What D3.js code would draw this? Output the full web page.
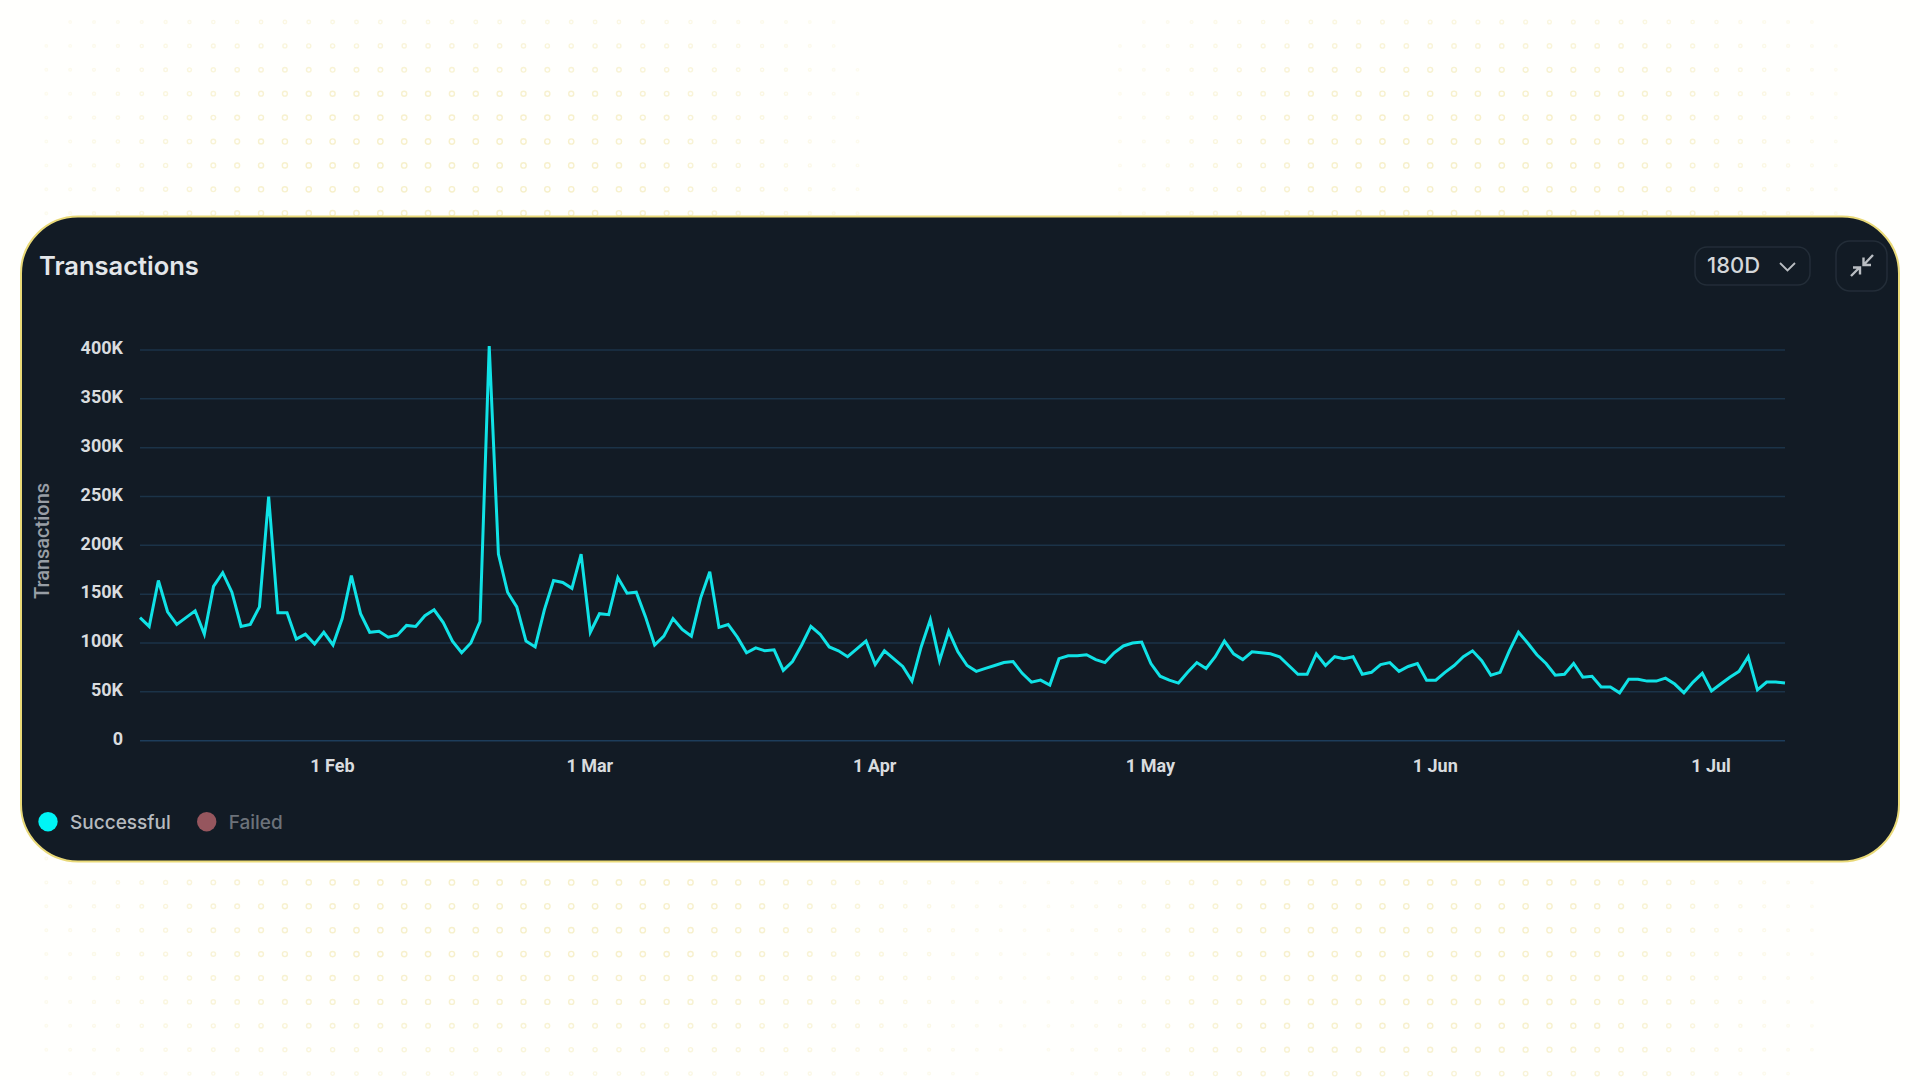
<!DOCTYPE html>
<html>
<head>
<meta charset="utf-8">
<title>Transactions</title>
<script src="https://cdn.jsdelivr.net/npm/d3@7"></script>
<style>
    html, body { margin: 0; padding: 0; background: #fffffd; overflow: hidden; }
    svg { display: block; }
</style>
</head>
<body>
<div id="chart-container"></div>
<script>
    // Daily successful transactions, in thousands (11 Jan -> 9 Jul)
    const successful = [
        126, 117, 164, 132, 119, 126, 133, 109, 158, 172, 152, 117, 119, 137, 250, 131, 131, 104, 109, 99,
        111, 98, 125, 169, 130, 111, 112, 106, 108, 118, 117, 128, 134, 121, 102, 90, 100, 122, 404, 191,
        152, 137, 102, 96, 134, 164, 162, 156, 191, 111, 130, 129, 167, 151, 152, 127, 98, 107, 125, 114,
        107, 146, 173, 116, 119, 106, 90, 95, 92, 93, 72, 81, 98, 117, 109, 96, 92, 86, 94, 102,
        78, 92, 84, 76, 61, 96, 124, 82, 112, 91, 77, 71, 74, 77, 80, 81, 69, 60, 62, 57,
        84, 87, 87, 88, 83, 80, 90, 97, 100, 101, 79, 66, 62, 59, 70, 80, 74, 86, 102, 89,
        83, 91, 90, 89, 86, 77, 68, 68, 89, 77, 86, 84, 86, 68, 70, 78, 80, 71, 76, 79,
        62, 62, 70, 77, 86, 92, 82, 67, 70, 92, 111, 100, 88, 79, 67, 68, 79, 65, 66, 55,
        55, 49, 63, 63, 61, 61, 64, 58, 49, 60, 69, 51, 58, 65, 71, 86, 52, 60, 60, 59
    ];
    const startDate = new Date(Date.UTC(2025, 0, 11));
    const yTicks = [0, 50, 100, 150, 200, 250, 300, 350, 400];
    const xTickDates = [
        new Date(Date.UTC(2025, 1, 1)),
        new Date(Date.UTC(2025, 2, 1)),
        new Date(Date.UTC(2025, 3, 1)),
        new Date(Date.UTC(2025, 4, 1)),
        new Date(Date.UTC(2025, 5, 1)),
        new Date(Date.UTC(2025, 6, 1))
    ];
    const legendItems = ["Successful", "Failed"];

    const width = 1920;
    const height = 1080;
    const card = { x: 21, y: 216.5, w: 1878, h: 645, r: 57 };
    const plot = { left: 140, right: 1785, top: 350, bottom: 740.7 };
    const axisFont = "Roboto, sans-serif";
    const uiFont = "Inter, sans-serif";

    const svg = d3.select("#chart-container")
        .append("svg")
        .attr("width", width)
        .attr("height", height);

    svg.append("rect")
        .attr("width", width)
        .attr("height", height)
        .attr("fill", "#fffffd");

    // Background dots: four faint patches fading out toward the edges
    const patches = [
        { cx: 450, cy: 205, sx: 330, sy: 190 },
        { cx: 1480, cy: 175, sx: 290, sy: 165 },
        { cx: 520, cy: 890, sx: 400, sy: 190 },
        { cx: 1430, cy: 945, sx: 300, sy: 170 }
    ];
    function dotStrength(x, y) {
        const v = d3.max(patches, p => {
            const dx = (x - p.cx) / p.sx;
            const dy = (y - p.cy) / p.sy;
            return Math.exp(-(dx * dx * dx * dx + dy * dy * dy * dy));
        });
        return v;
    }
    const dots = [];
    d3.range(0, 78).forEach(i => {
        d3.range(0, 45).forEach(j => {
            const x = 46.3 + i * 23.86;
            const y = 22 + j * 23.9;
            const s = dotStrength(x, y);
            if (s > 0.06) dots.push({ x, y, s });
        });
    });
    svg.append("g")
        .selectAll("circle")
        .data(dots)
        .join("circle")
        .attr("cx", d => d.x)
        .attr("cy", d => d.y)
        .attr("r", d => 1.1 + 1.6 * d.s)
        .attr("fill", "none")
        .attr("stroke", "#f6efc8")
        .attr("stroke-width", 1.4)
        .attr("opacity", d => 0.2 + 0.75 * d.s);

    // Card
    svg.append("rect")
        .attr("x", card.x)
        .attr("y", card.y)
        .attr("width", card.w)
        .attr("height", card.h)
        .attr("rx", card.r)
        .attr("fill", "#121b25")
        .attr("stroke", "#e9d978")
        .attr("stroke-width", 2);

    svg.append("text")
        .attr("x", 39)
        .attr("y", 275)
        .attr("fill", "#e3e6e9")
        .style("font-family", uiFont)
        .style("font-size", "25.5px")
        .style("font-weight", 600)
        .text("Transactions");

    // Range select
    svg.append("rect")
        .attr("x", 1695)
        .attr("y", 247)
        .attr("width", 115)
        .attr("height", 38)
        .attr("rx", 12)
        .attr("fill", "none")
        .attr("stroke", "#232d38")
        .attr("stroke-width", 1.5);
    svg.append("text")
        .attr("x", 1707)
        .attr("y", 273)
        .attr("fill", "#d4d7da")
        .style("font-family", uiFont)
        .style("font-size", "22px")
        .style("font-weight", 500)
        .text("180D");
    svg.append("path")
        .attr("d", "M1780,263 L1787.5,270.5 L1795,263")
        .attr("fill", "none")
        .attr("stroke", "#b9bdc2")
        .attr("stroke-width", 1.8);

    // Collapse button
    svg.append("rect")
        .attr("x", 1836)
        .attr("y", 241)
        .attr("width", 51)
        .attr("height", 50)
        .attr("rx", 14)
        .attr("fill", "none")
        .attr("stroke", "#232d38")
        .attr("stroke-width", 1.5);
    svg.append("path")
        .attr("d", "M1873,255 L1864,264.5 M1863.5,257.5 L1863.5,265 L1871,265 M1851,276 L1859.5,267.5 M1853,267.5 L1860,267.5 L1860,274.5")
        .attr("fill", "none")
        .attr("stroke", "#b9bdc2")
        .attr("stroke-width", 2.4);

    // Scales
    const xScale = d3.scaleUtc()
        .domain([startDate, d3.utcDay.offset(startDate, successful.length - 1)])
        .range([plot.left, plot.right]);
    const yScale = d3.scaleLinear()
        .domain([0, 400])
        .range([plot.bottom, plot.top]);

    // Grid lines
    svg.append("g")
        .selectAll("line")
        .data(yTicks)
        .join("line")
        .attr("x1", plot.left)
        .attr("x2", plot.right)
        .attr("y1", d => yScale(d))
        .attr("y2", d => yScale(d))
        .attr("stroke", d => d === 0 ? "#1d3d5b" : "#1b3348")
        .attr("stroke-width", 1.5);

    // Y axis
    const yAxis = svg.append("g")
        .attr("transform", "translate(131,-2)")
        .call(d3.axisLeft(yScale)
            .tickValues(yTicks)
            .tickSize(0)
            .tickPadding(8)
            .tickFormat(d => d === 0 ? "0" : d + "K"));

    // X axis
    const xAxis = svg.append("g")
        .attr("transform", `translate(-1,${plot.bottom + 13})`)
        .call(d3.axisBottom(xScale)
            .tickValues(xTickDates)
            .tickSize(0)
            .tickPadding(6)
            .tickFormat(d3.utcFormat("%-d %b")));

    [yAxis, xAxis].forEach(axis => {
        axis.selectAll(".domain").remove();
        axis.selectAll("text")
            .attr("fill", "#d9dcdf")
            .style("font-family", axisFont)
            .style("font-size", "18px")
            .style("font-weight", 700);
    });

    svg.append("text")
        .attr("transform", "translate(49,541) rotate(-90)")
        .attr("text-anchor", "middle")
        .attr("fill", "#989ea5")
        .style("font-family", axisFont)
        .style("font-size", "20px")
        .style("font-weight", 500)
        .text("Transactions");

    // Line
    const line = d3.line()
        .x((d, i) => xScale(d3.utcDay.offset(startDate, i)))
        .y(d => yScale(d));

    svg.append("path")
        .datum(successful)
        .attr("d", line)
        .attr("fill", "none")
        .attr("stroke", "#10e2e6")
        .attr("stroke-width", 3)
        .attr("stroke-linejoin", "miter");

    // Legend
    const legendX = d3.scaleOrdinal().domain(legendItems).range([48, 206.7]);
    const legendDot = d3.scaleOrdinal().domain(legendItems).range(["#00f4f6", "#96565e"]);
    const legendText = d3.scaleOrdinal().domain(legendItems).range(["#b6babf", "#6c727a"]);

    const legend = svg.append("g")
        .selectAll("g")
        .data(legendItems)
        .join("g")
        .attr("transform", d => `translate(${legendX(d)},821.7)`);
    legend.append("circle")
        .attr("r", 9.7)
        .attr("fill", d => legendDot(d));
    legend.append("text")
        .attr("x", 22)
        .attr("y", 7)
        .attr("fill", d => legendText(d))
        .style("font-family", uiFont)
        .style("font-size", "19px")
        .style("font-weight", 500)
        .text(d => d);
</script>
</body>
</html>
